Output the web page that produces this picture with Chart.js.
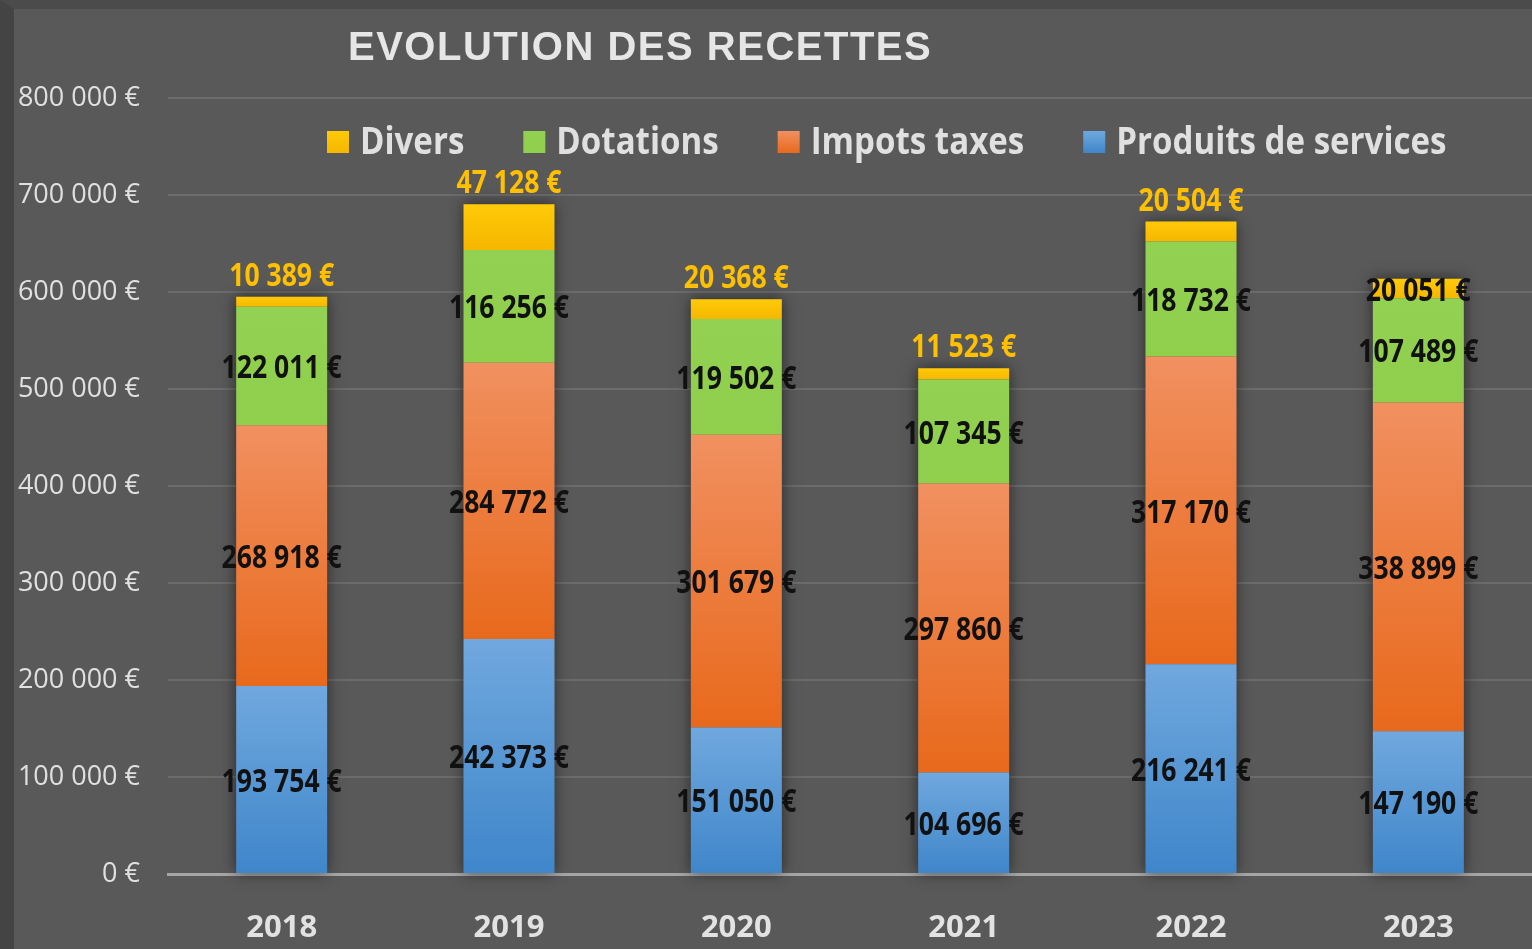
<!DOCTYPE html>
<html>
<head>
<meta charset="utf-8">
<script src="https://cdn.jsdelivr.net/npm/chart.js@4"></script>
<style>
  html, body { margin: 0; padding: 0; }
  body { width: 1532px; height: 949px; overflow: hidden; background: #4a4a4a; }
  #frame {
    position: absolute; left: 0; top: 0; width: 1532px; height: 949px; box-sizing: border-box;
    border-left: 14px solid #444; border-top: 9px solid #4b4b4b; background: #595959;
  }
  #wrap { position: absolute; left: 0; top: 0; width: 1532px; height: 949px; }
</style>
</head>
<body>
<div id="frame"></div>
<div id="wrap"><canvas id="recettes"></canvas></div>
<script>
const years = ['2018', '2019', '2020', '2021', '2022', '2023'];
const produits = [193754, 242373, 151050, 104696, 216241, 147190];
const impots = [268918, 284772, 301679, 297860, 317170, 338899];
const dotations = [122011, 116256, 119502, 107345, 118732, 107489];
const divers = [10389, 47128, 20368, 11523, 20504, 20051];
const yMax = 800000;
const yStep = 100000;

const stackOrder = [produits, impots, dotations, divers];
const labels = ['Produits de services', 'Impots taxes', 'Dotations', 'Divers'];
const FONT = '"Open Sans", "Liberation Sans", sans-serif';

const fmt = v => String(v).replace(/\B(?=(\d{3})+(?!\d))/g, ' ') + ' €';

// text is narrow like Calibri, so squeeze it horizontally
function squeezedText(ctx, txt, x, y, align, sx) {
    ctx.save();
    ctx.translate(x, y);
    ctx.scale(sx, 1);
    ctx.textAlign = align;
    ctx.fillText(txt, 0, 0);
    ctx.restore();
}

// gradient per segment, lighter on top
function segGradient(top, bottom) {
    return ctx => {
        if (ctx.type !== 'data' || !ctx.chart.chartArea) return top;
        const y = ctx.chart.scales.y;
        let start = 0;
        for (let k = 0; k < ctx.datasetIndex; k++) start += stackOrder[k][ctx.dataIndex];
        const end = start + stackOrder[ctx.datasetIndex][ctx.dataIndex];
        const g = ctx.chart.ctx.createLinearGradient(0, y.getPixelForValue(end), 0, y.getPixelForValue(start));
        g.addColorStop(0, top);
        g.addColorStop(1, bottom);
        return g;
    };
}

const colors = [
    ['#70a8de', '#3f86ca'],
    ['#f19060', '#e8691c'],
    ['#93d152', '#8fcf4c'],
    ['#ffca08', '#f5b700']
];

// shadow behind each stacked column
const barShadow = {
    id: 'barShadow',
    beforeDatasetsDraw(chart) {
        const ctx = chart.ctx;
        const first = chart.getDatasetMeta(0).data;
        const last = chart.getDatasetMeta(chart.data.datasets.length - 1).data;
        ctx.save();
        ctx.shadowColor = 'rgba(0,0,0,0.55)';
        ctx.shadowBlur = 14;
        ctx.fillStyle = '#555';
        first.forEach((bar, i) => {
            const top = last[i].y;
            ctx.fillRect(bar.x - bar.width / 2, top, bar.width, bar.base - top);
        });
        ctx.restore();
    }
};

// value labels
const valueLabels = {
    id: 'valueLabels',
    afterDatasetsDraw(chart) {
        const ctx = chart.ctx;
        ctx.save();
        ctx.font = 'bold 32px ' + FONT;
        ctx.textBaseline = 'middle';
        chart.data.datasets.forEach((ds, di) => {
            chart.getDatasetMeta(di).data.forEach((bar, i) => {
                const txt = fmt(ds.data[i]);
                const isTop = di === chart.data.datasets.length - 1;
                if (isTop && i !== 5) {
                    ctx.fillStyle = '#ffc000';
                    squeezedText(ctx, txt, bar.x, bar.y - 20, 'center', 0.83);
                } else {
                    ctx.fillStyle = '#111';
                    squeezedText(ctx, txt, bar.x, (bar.y + bar.base) / 2 + 3, 'center', 0.83);
                }
            });
        });
        ctx.restore();
    }
};

// title and legend drawn inside the plot
const headerDraw = {
    id: 'headerDraw',
    afterDraw(chart) {
        const ctx = chart.ctx;
        ctx.save();
        ctx.fillStyle = '#e6e6e6';
        ctx.font = 'bold 40px "Liberation Sans", sans-serif';
        ctx.letterSpacing = '1.5px';
        ctx.textAlign = 'left';
        ctx.textBaseline = 'middle';
        ctx.fillText('EVOLUTION DES RECETTES', 348, 49);
        ctx.letterSpacing = '0px';

        ctx.font = 'bold 38px ' + FONT;
        const sx = 0.87;
        let x = 327;
        const yc = 142;
        for (let di = chart.data.datasets.length - 1; di >= 0; di--) {
            const ds = chart.data.datasets[di];
            const g = ctx.createLinearGradient(0, yc - 11, 0, yc + 11);
            g.addColorStop(0, colors[di][0]);
            g.addColorStop(1, colors[di][1]);
            ctx.fillStyle = g;
            ctx.fillRect(x, yc - 11, 22, 22);
            ctx.fillStyle = '#e0e0e0';
            squeezedText(ctx, ds.label, x + 33, yc + 1, 'left', sx);
            x += 33 + ctx.measureText(ds.label).width * sx + 59;
        }
        ctx.restore();
    }
};

new Chart(document.getElementById('recettes'), {
    type: 'bar',
    data: {
        labels: years,
        datasets: stackOrder.map((vals, k) => ({
            label: labels[k],
            data: vals,
            backgroundColor: segGradient(colors[k][0], colors[k][1]),
            borderWidth: 0,
            barPercentage: 0.4,
            categoryPercentage: 1
        }))
    },
    options: {
        responsive: true,
        maintainAspectRatio: false,
        animation: false,
        layout: { padding: { top: 98, right: 0, bottom: 0, left: 0 } },
        plugins: {
            legend: { display: false },
            title: { display: false },
            tooltip: { enabled: false }
        },
        scales: {
            x: {
                stacked: true,
                afterFit: s => { s.height = 75; },
                grid: { display: false, drawTicks: false },
                border: { display: true, color: '#a6a6a6', width: 3 },
                ticks: {
                    color: '#e2e2e2',
                    padding: 36,
                    font: { family: FONT, size: 31, weight: 'bold' }
                }
            },
            y: {
                stacked: true,
                min: 0,
                max: yMax,
                afterFit: s => { s.width = 168; },
                border: { display: false },
                grid: { color: '#6b6b6b', lineWidth: 2, drawTicks: false },
                ticks: {
                    stepSize: yStep,
                    color: '#e0e0e0',
                    padding: 28,
                    font: { family: FONT, size: 27 },
                    callback: v => fmt(v)
                }
            }
        }
    },
    plugins: [barShadow, valueLabels, headerDraw]
});
</script>
</body>
</html>
